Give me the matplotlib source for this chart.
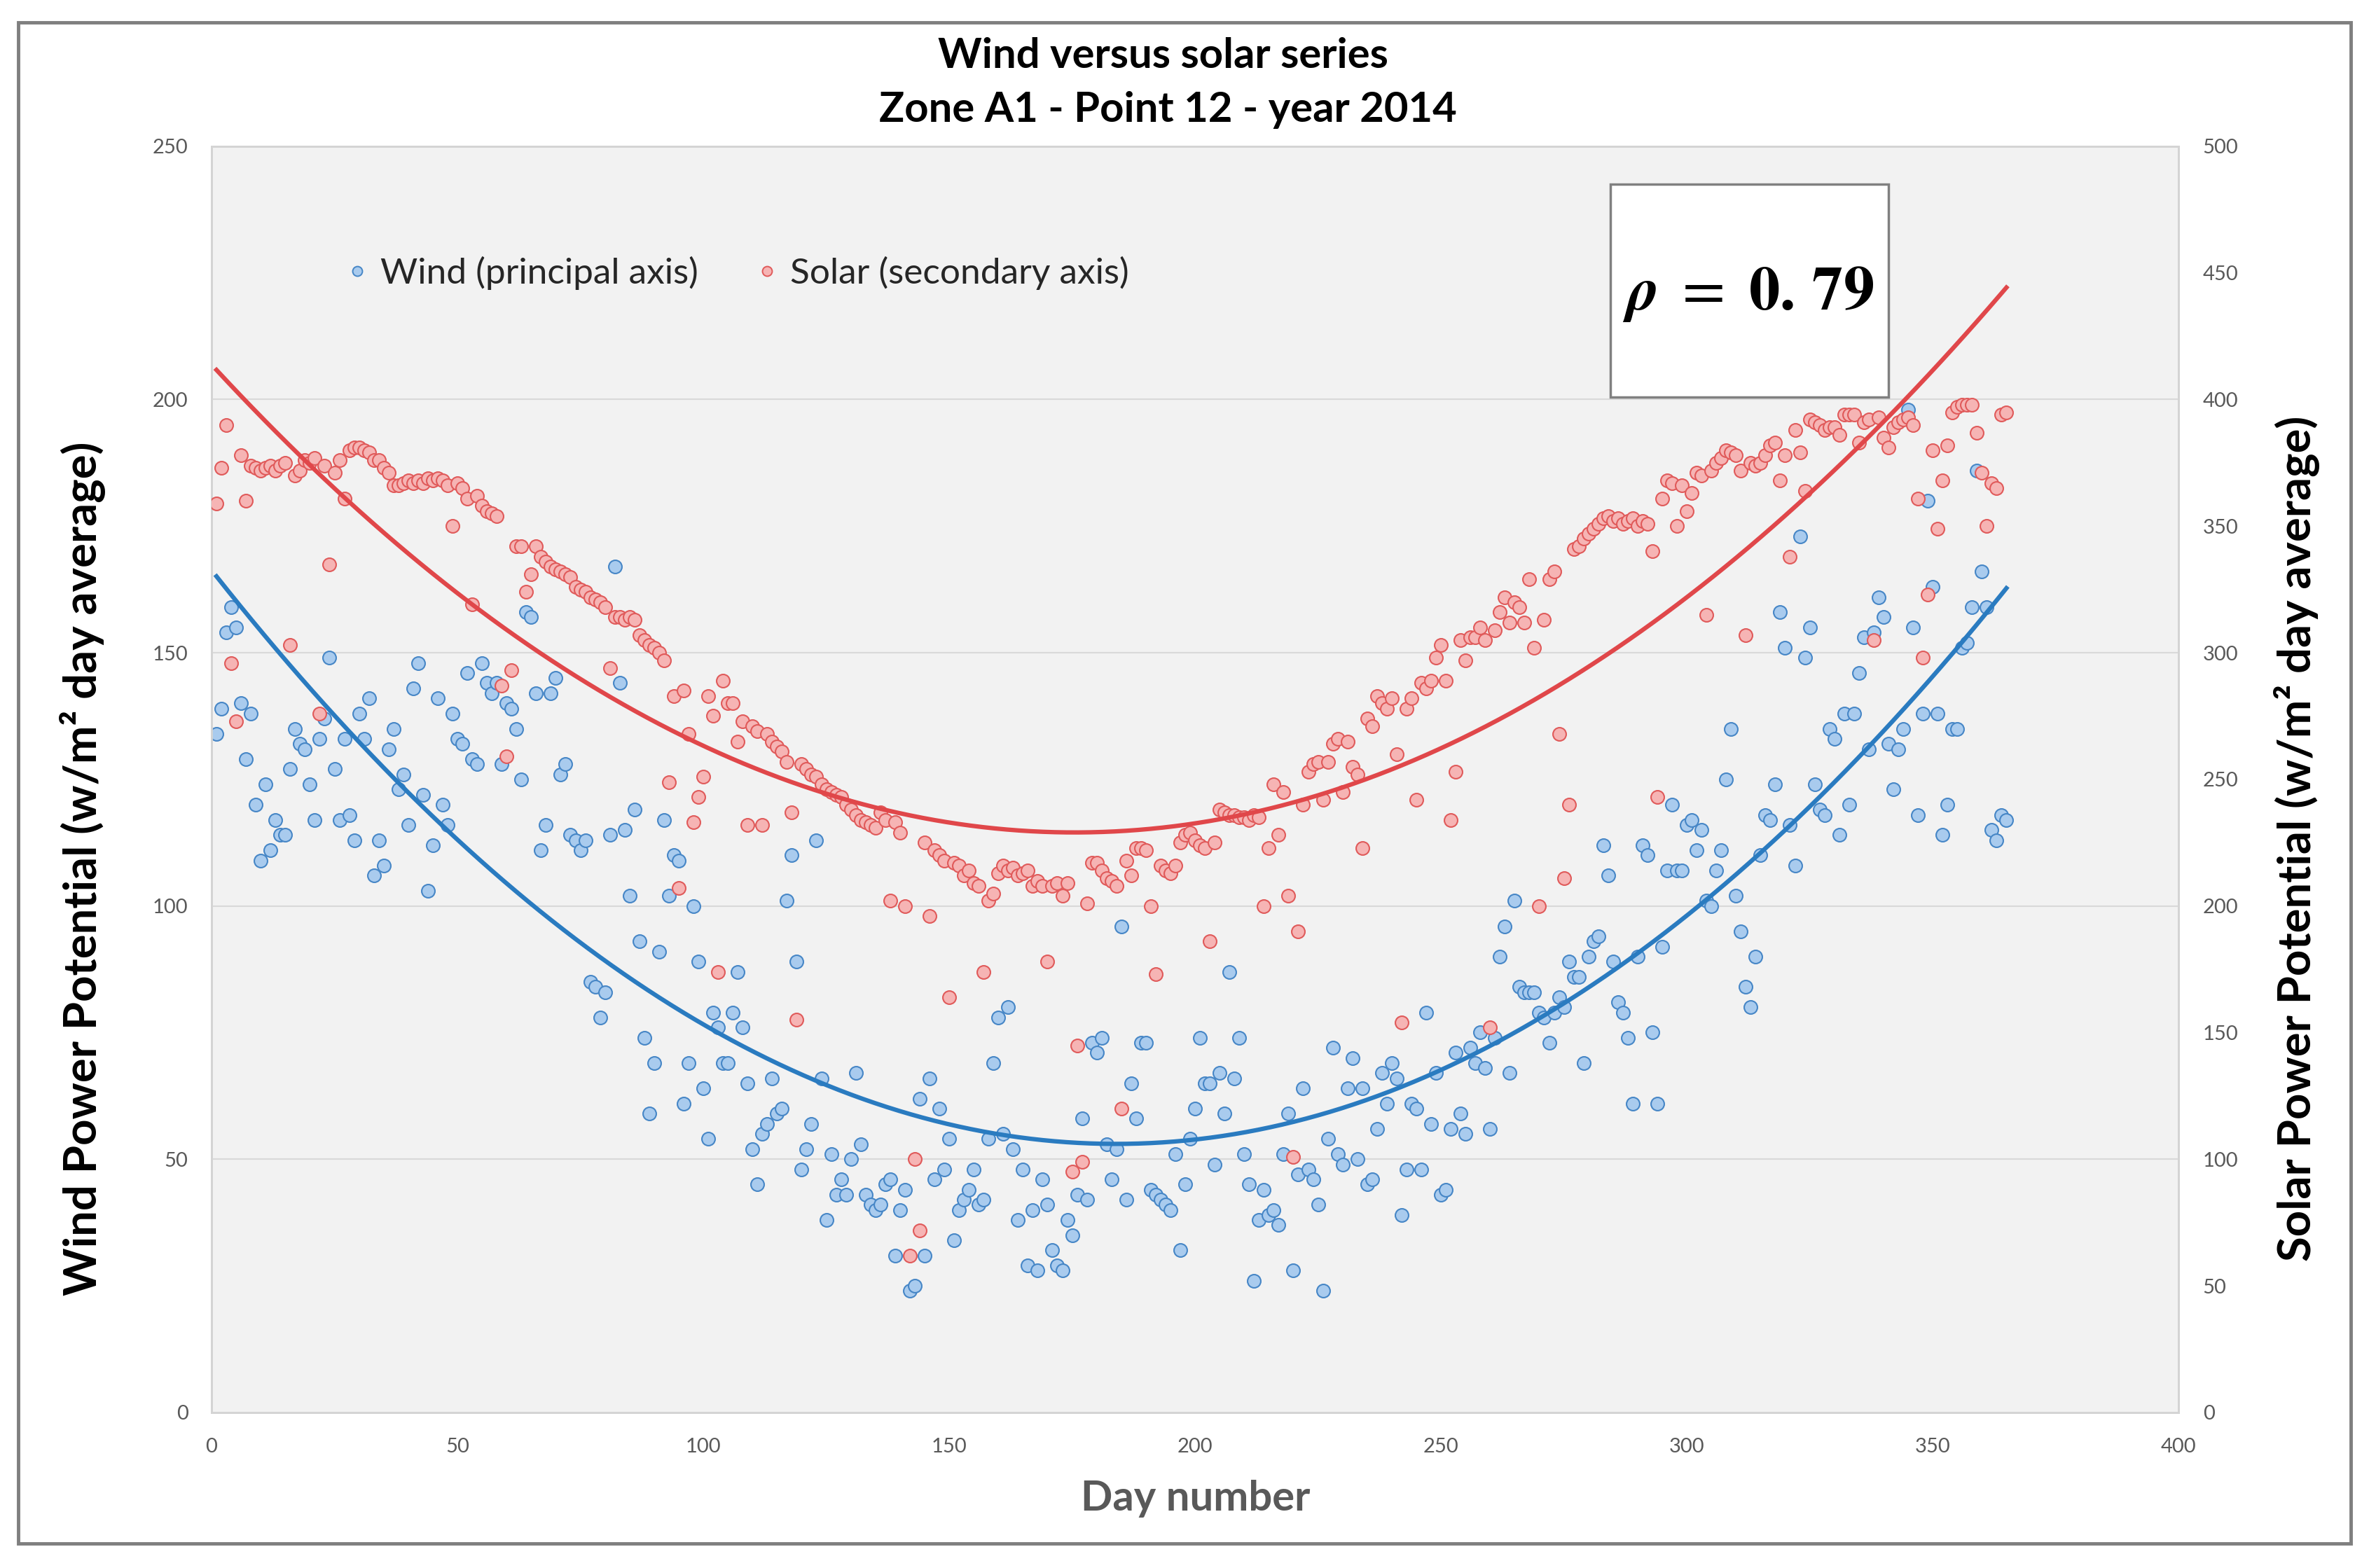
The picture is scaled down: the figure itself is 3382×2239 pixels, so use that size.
import matplotlib
matplotlib.use('Agg')
import matplotlib.pyplot as plt
from matplotlib.patches import Rectangle
from matplotlib.lines import Line2D
import numpy as np

plt.rcParams['font.family'] = ['Lato', 'DejaVu Sans']
plt.rcParams['mathtext.fontset'] = 'stix'

# wind (principal axis), one value per day
wind_winter = [134, 139, 154, 159, 155, 140, 129, 138, 120, 109, 124, 111, 117, 114, 114, 127, 135, 132, 131, 124,
               117, 133, 137, 149, 127, 117, 133, 118, 113, 138, 133, 141, 106, 113, 108, 131, 135, 123, 126, 116,
               143, 148, 122, 103, 112, 141, 120, 116, 138, 133, 132, 146, 129, 128, 148]
wind_spring = [144, 142, 144, 128, 140, 139, 135, 125, 158, 157, 142, 111, 116, 142, 145, 126, 128, 114, 113, 111,
               113, 85, 84, 78, 83, 114, 167, 144, 115, 102, 119, 93, 74, 59, 69, 91, 117, 102, 110, 109,
               61, 69, 100, 89, 64, 54, 79, 76, 69, 69, 79, 87, 76, 65, 52]
wind_may = [45, 55, 57, 66, 59, 60, 101, 110, 89, 48, 52, 57, 113, 66, 38, 51, 43, 46, 43, 50,
            67, 53, 43, 41, 40, 41, 45, 46, 31, 40, 44, 24, 25, 62, 31, 66, 46, 60, 48, 54,
            34, 40, 42, 44, 48, 41, 42, 54, 69, 78, 55, 80, 52, 38, 48, 29]
wind_summer = [40, 28, 46, 41, 32, 29, 28, 38, 35, 43, 58, 42, 73, 71, 74, 53, 46, 52, 96, 42,
               65, 58, 73, 73, 44, 43, 42, 41, 40, 51, 32, 45, 54, 60, 74, 65, 65, 49, 67, 59,
               87, 66, 74, 51, 45, 26, 38, 44, 39, 40, 37, 51, 59, 28, 47]
wind_aug = [64, 48, 46, 41, 24, 54, 72, 51, 49, 64, 70, 50, 64, 45, 46, 56, 67, 61, 69, 66,
            39, 48, 61, 60, 48, 79, 57, 67, 43, 44, 56, 71, 59, 55, 72, 69, 75, 68, 56, 74,
            90, 96, 67, 101, 84, 83, 83, 83, 79, 78, 73, 79, 82, 80, 89, 86]
wind_autumn = [86, 69, 90, 93, 94, 112, 106, 89, 81, 79, 74, 61, 90, 112, 110, 75, 61, 92, 107, 120,
               107, 107, 116, 117, 111, 115, 101, 100, 107, 111, 125, 135, 102, 95, 84, 80, 90, 110, 118, 117,
               124, 158, 151, 116, 108, 173, 149, 155, 124, 119, 118, 135, 133, 114, 138]
wind_dec = [120, 138, 146, 153, 131, 154, 161, 157, 132, 123, 131, 135, 198, 155, 118, 138, 180, 163, 138, 114,
            120, 135, 135, 151, 152, 159, 186, 166, 159, 115, 113, 118, 117]

# solar (secondary axis)
solar_winter = [359, 373, 390, 296, 273, 378, 360, 374, 373, 372, 373, 374, 372, 374, 375, 303, 370, 372, 376, 375,
                377, 276, 374, 335, 371, 376, 361, 380, 381, 381, 380, 379, 376, 376, 373, 371, 366, 366, 367, 368,
                367, 368, 367, 369, 368, 369, 368, 366, 350, 367, 365, 361, 319, 362, 358]
solar_spring = [356, 355, 354, 287, 259, 293, 342, 342, 324, 331, 342, 338, 336, 334, 333, 332, 331, 330, 326, 325,
                324, 322, 321, 320, 318, 294, 314, 314, 313, 314, 313, 307, 305, 303, 302, 300, 297, 249, 283, 207,
                285, 268, 233, 243, 251, 283, 275, 174, 289, 280, 280, 265, 273, 232, 271]
solar_may = [269, 232, 268, 265, 263, 261, 257, 237, 155, 256, 254, 252, 251, 248, 246, 245, 244, 243, 240, 238,
             236, 234, 233, 232, 231, 237, 234, 202, 233, 229, 200, 62, 100, 72, 225, 196, 222, 220, 218, 164,
             217, 216, 212, 214, 209, 208, 174, 202, 205, 213, 216, 214, 215, 212, 213, 214]
solar_summer = [208, 210, 208, 178, 208, 209, 204, 209, 95, 145, 99, 201, 217, 217, 214, 211, 210, 208, 120, 218,
                212, 223, 223, 222, 200, 173, 216, 214, 213, 216, 225, 228, 229, 226, 224, 223, 186, 225, 238, 237,
                236, 236, 235, 235, 234, 236, 235, 200, 223, 248, 228, 245, 204, 101, 190]
solar_aug = [240, 253, 256, 257, 242, 257, 264, 266, 245, 265, 255, 252, 223, 274, 271, 283, 280, 278, 282, 260,
             154, 278, 282, 242, 288, 286, 289, 298, 303, 289, 234, 253, 305, 297, 306, 306, 310, 305, 152, 309,
             316, 322, 312, 320, 318, 312, 329, 302, 200, 313, 329, 332, 268, 211, 240, 341]
solar_autumn = [342, 345, 347, 349, 351, 353, 354, 352, 353, 351, 352, 353, 350, 352, 351, 340, 243, 361, 368, 367,
                350, 366, 356, 363, 371, 370, 315, 372, 375, 377, 380, 379, 378, 372, 307, 375, 374, 375, 378, 382,
                383, 368, 378, 338, 388, 379, 364, 392, 391, 390, 388, 389, 389, 386, 394]
solar_dec = [394, 394, 383, 391, 392, 305, 393, 385, 381, 389, 391, 392, 393, 390, 361, 298, 323, 380, 349, 368,
             382, 395, 397, 398, 398, 398, 387, 371, 350, 367, 365, 394, 395]

wind = np.array(wind_winter + wind_spring + wind_may + wind_summer + wind_aug + wind_autumn + wind_dec, float)
solar = np.array(solar_winter + solar_spring + solar_may + solar_summer + solar_aug + solar_autumn + solar_dec, float)
days = np.arange(1, len(wind) + 1)

x_ticks = [0, 50, 100, 150, 200, 250, 300, 350, 400]
wind_ticks = [0, 50, 100, 150, 200, 250]
solar_ticks = [0, 50, 100, 150, 200, 250, 300, 350, 400, 450, 500]

fig = plt.figure(figsize=(33.82, 22.39), dpi=100)
ax = fig.add_axes([0.0893, 0.0992, 0.8303, 0.8075])
ax2 = ax.twinx()

ax.set_facecolor('#f2f2f2')
ax.set_xlim(0, 400)
ax.set_ylim(0, 250)
ax2.set_ylim(0, 500)
ax.set_xticks(x_ticks)
ax.set_yticks(wind_ticks)
ax2.set_yticks(solar_ticks)
ax.yaxis.grid(True, color='#d9d9d9', lw=1.5)
ax.set_axisbelow(True)
for a in (ax, ax2):
    for s in a.spines.values():
        s.set_color('#d4d4d4')
        s.set_linewidth(2)
ax.tick_params(axis='x', length=0, labelsize=21, labelcolor='#595959', pad=26)
ax.tick_params(axis='y', length=0, labelsize=21, labelcolor='#595959', pad=24)
ax2.tick_params(axis='y', length=0, labelsize=21, labelcolor='#595959', pad=25)

blue_fill, blue_edge, blue_line = '#a9cbee', '#4686c6', '#2a7bc0'
red_fill, red_edge, red_line = '#f6b4b4', '#e05a5a', '#e0474a'

ax.scatter(days, wind, s=185, c=blue_fill, edgecolors=blue_edge, linewidths=1.5, zorder=3)
ax2.scatter(days, solar, s=185, c=red_fill, edgecolors=red_edge, linewidths=1.5, zorder=3)

# polynomial trendlines (order 2), as in the spreadsheet
xx = np.linspace(1, 365, 300)
ax.plot(xx, np.polyval(np.polyfit(days, wind, 2), xx), color=blue_line, lw=4.5, zorder=4)
ax2.plot(xx, np.polyval(np.polyfit(days, solar, 2), xx), color=red_line, lw=4.5, zorder=4)

handles = [Line2D([], [], ls='none', marker='o', ms=10, mfc=blue_fill, mec=blue_edge, mew=1.4),
           Line2D([], [], ls='none', marker='o', ms=10, mfc=red_fill, mec=red_edge, mew=1.4)]
ax2.legend(handles, ['Wind (principal axis)', 'Solar (secondary axis)'], loc='center left',
           bbox_to_anchor=(0.052, 0.9), ncol=2, frameon=False, fontsize=37, labelcolor='#262626',
           handlelength=0.6, handletextpad=0.35, columnspacing=1.6)

fig.text(0.4911, 0.9643, 'Wind versus solar series', ha='center', va='center', fontsize=43, fontweight='bold')
fig.text(0.4930, 0.9299, 'Zone A1 - Point 12 - year 2014', ha='center', va='center', fontsize=43, fontweight='bold')
fig.text(0.0349, 0.4462, 'Wind Power Potential (w/m² day average)', rotation=90, ha='center', va='center',
         fontsize=47, fontweight='bold')
fig.text(0.9695, 0.4654, 'Solar Power Potential (w/m² day average)', rotation=90, ha='center', va='center',
         fontsize=47, fontweight='bold')
fig.text(0.5045, 0.0442, 'Day number', ha='center', va='center', fontsize=43, fontweight='bold', color='#595959')

# correlation box
fig.add_artist(Rectangle((0.6798, 0.7468), 0.1174, 0.1357, transform=fig.transFigure,
                         fc='white', ec='#808080', lw=2.5, zorder=5))
fig.text(0.738, 0.8125, r'$\boldsymbol{\rho}\ =\ \mathbf{0.\,79}$', ha='center', va='center', fontsize=64, zorder=6)

# outer chart border
fig.add_artist(Rectangle((0.0077, 0.0156), 0.9846, 0.9701, transform=fig.transFigure,
                         fill=False, ec='#7f7f7f', lw=3.5, zorder=5))

fig.savefig('out.png', dpi=100, facecolor='white')
